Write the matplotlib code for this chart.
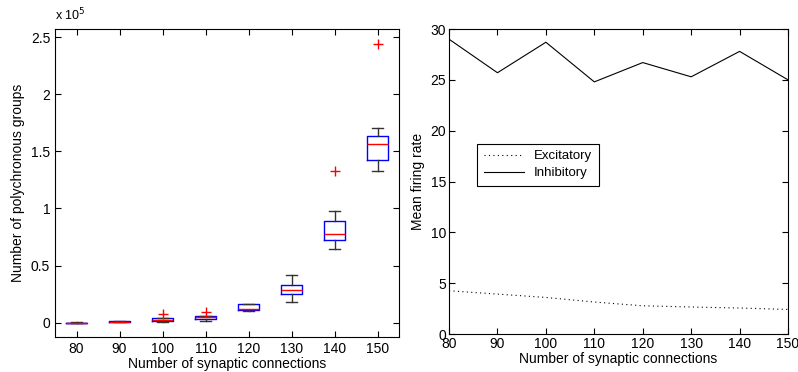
import matplotlib
matplotlib.use("Agg")
import matplotlib.pyplot as plt

plt.rcParams['font.family'] = ['Liberation Sans', 'DejaVu Sans']

# ---- data ----
connections = [80, 90, 100, 110, 120, 130, 140, 150]
med = [100, 1000, 2800, 4700, 11700, 28600, 77500, 156200]
q1 = [0, 700, 1800, 3500, 11000, 25100, 72600, 142800]
q3 = [200, 1300, 4100, 5800, 16300, 33200, 88600, 163200]
whislo = [0, 300, 800, 1800, 10000, 17800, 64400, 132900]
whishi = [300, 1600, 4500, 6000, 16500, 42200, 98200, 170700]
fliers = [[], [], [7600], [9300], [], [], [132900], [244200]]

excitatory = [4.26, 3.93, 3.6, 3.15, 2.78, 2.66, 2.56, 2.42]
inhibitory = [29.0, 25.7, 28.7, 24.8, 26.7, 25.3, 27.8, 25.0]

fig = plt.figure(figsize=(7.98, 3.72), dpi=100)

# ---- left: boxplot ----
ax1 = fig.add_axes([0.069, 0.094, 0.431, 0.828])
stats = []
for i, c in enumerate(connections):
    stats.append(dict(med=med[i], q1=q1[i], q3=q3[i], whislo=whislo[i],
                      whishi=whishi[i], fliers=fliers[i], label=str(c)))
ax1.bxp(stats, positions=range(1, len(connections) + 1), widths=0.5,
        boxprops=dict(color='blue', linewidth=1.0),
        medianprops=dict(color='red', linewidth=1.0),
        whiskerprops=dict(color='#333333', linewidth=1.0),
        capprops=dict(color='#333333', linewidth=1.0),
        flierprops=dict(marker='+', markeredgecolor='red', markersize=7, linestyle='none'))
ax1.set_xlim(0.5, len(connections) + 0.5)
ax1.set_ylim(-12500, 257000)
ax1.set_yticks([0, 50000, 100000, 150000, 200000, 250000])
ax1.set_yticklabels(['0', '0.5', '1', '1.5', '2', '2.5'])
ax1.set_xticklabels([str(c) for c in connections])
ax1.set_xlabel('Number of synaptic connections', fontsize=10, labelpad=1)
ax1.set_ylabel('Number of polychronous groups', fontsize=10)
ax1.text(0.0, 1.02, r'x 10$^5$', transform=ax1.transAxes, fontsize=9, va='bottom', ha='left')
ax1.tick_params(direction='in', top=True, right=True, labelsize=10, length=4)

# ---- right: firing rates ----
ax2 = fig.add_axes([0.5627, 0.102, 0.4248, 0.820])
ax2.plot(connections, excitatory, color='black', linestyle=(0, (1, 3)), linewidth=0.8, label='Excitatory')
ax2.plot(connections, inhibitory, color='black', linestyle='-', linewidth=0.8, label='Inhibitory')
ax2.set_xlim(80, 150)
ax2.set_ylim(0, 30)
ax2.set_xticks(connections)
ax2.set_yticks([0, 5, 10, 15, 20, 25, 30])
ax2.set_xlabel('Number of synaptic connections', fontsize=10, labelpad=1)
ax2.set_ylabel('Mean firing rate', fontsize=10)
ax2.tick_params(direction='in', top=True, right=True, labelsize=10, length=4, pad=2)
leg = ax2.legend(loc='upper left', bbox_to_anchor=(0.064, 0.646), fontsize=9.5,
                 frameon=True, fancybox=False, edgecolor='black', framealpha=1,
                 handlelength=3, borderpad=0.5, labelspacing=0.35)
leg.get_frame().set_linewidth(0.8)

fig.savefig('out.png', dpi=100)
